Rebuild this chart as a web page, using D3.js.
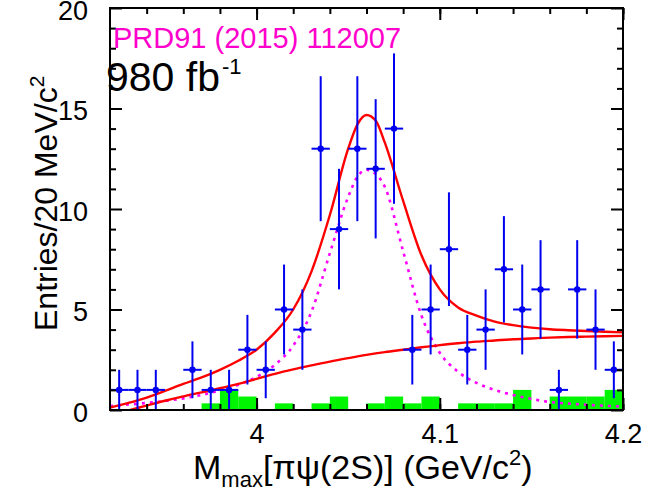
<!DOCTYPE html>
<html>
<head>
<meta charset="utf-8">
<script src="https://cdn.jsdelivr.net/npm/d3@7"></script>
<style>
  html, body { margin: 0; padding: 0; background: #fff; }
  svg { display: block; }
  text { font-family: "Liberation Sans", Arial, Helvetica, sans-serif; }
</style>
</head>
<body>
<svg id="chart" width="646" height="491"></svg>
<script>
// ---------------- data ----------------
const binCenters = [3.925,3.935,3.945,3.955,3.965,3.975,3.985,3.995,4.005,4.015,4.025,4.035,4.045,4.055,
                    4.065,4.075,4.085,4.095,4.105,4.115,4.125,4.135,4.145,4.155,4.165,4.175,4.185,4.195];
const dataCounts = [1,1,1,0,2,1,1,3,2,5,4,13,9,13,12,14,3,5,8,3,4,7,5,6,1,6,4,2];
const sidebandCounts = [0,0,0,0,0,0.33,1.0,0.67,0,0.33,0,0.33,0.67,0,
                        0.33,0.67,0.33,0.67,0,0.33,0.33,0.33,1.0,0,0.67,0.67,0.67,1.0];
const binWidth = 0.01;

// total fit (solid red)
const totalX = [3.92,3.93,3.94,3.95,3.96,3.97,3.98,3.99,4.00,4.01,4.02,4.03,4.04,4.05,4.055,4.06,4.065,4.07,
                4.08,4.09,4.10,4.11,4.12,4.13,4.14,4.15,4.16,4.17,4.18,4.19,4.20];
const totalY = [0.12,0.35,0.62,0.95,1.3,1.62,2.0,2.45,3.0,3.85,5.0,6.9,9.7,13.0,14.2,14.68,14.4,13.3,
                10.4,7.7,6.0,5.1,4.7,4.4,4.22,4.1,4.02,3.97,3.93,3.89,3.86];
// background (solid red, lower)
const bkgX = [3.931,3.935,3.94,3.95,3.96,3.97,3.98,3.99,4.00,4.01,4.02,4.03,4.04,4.05,4.06,4.07,4.08,4.09,
              4.10,4.11,4.12,4.13,4.14,4.15,4.16,4.17,4.18,4.19,4.20];
const bkgY = [0,0.1,0.22,0.46,0.68,0.88,1.08,1.3,1.55,1.8,2.02,2.22,2.41,2.58,2.74,2.88,3.0,3.12,
              3.23,3.32,3.4,3.46,3.52,3.56,3.6,3.63,3.65,3.67,3.69];
// signal (dotted magenta)
const sigX = [3.92,3.93,3.94,3.95,3.96,3.97,3.98,3.99,4.00,4.01,4.02,4.03,4.04,4.05,4.055,4.06,4.065,4.07,
              4.08,4.09,4.10,4.11,4.12,4.13,4.14,4.15,4.16,4.17,4.18,4.19,4.20];
const sigY = [0.2,0.27,0.35,0.45,0.58,0.75,0.98,1.25,1.65,2.25,3.2,4.9,7.8,10.6,11.6,11.95,11.75,11.1,
              7.9,4.7,2.85,1.9,1.35,1.0,0.75,0.55,0.4,0.32,0.26,0.21,0.17];

const xMajorTicks = [4.0, 4.1, 4.2];
const xTickLabels = ["4", "4.1", "4.2"];
const yMajorTicks = [0, 5, 10, 15, 20];
const yTickLabels = ["0", "5", "10", "15", "20"];
const refLabel = "PRD91 (2015) 112007";
const lumiLabel = "980 fb";
const lumiSup = "-1";

// ---------------- layout ----------------
const svg = d3.select("#chart");
const L = 110, R = 623, T = 8, B = 410;
const x = d3.scaleLinear().domain([3.92, 4.2]).range([L, R]);
const y = d3.scaleLinear().domain([0, 20]).range([B, T]);

const plot = svg.append("g");
svg.append("defs").append("clipPath").attr("id","clip")
  .append("rect").attr("x", L).attr("y", T).attr("width", R-L).attr("height", B-T);
const inner = plot.append("g").attr("clip-path","url(#clip)");

// sideband histogram (green)
inner.selectAll("rect.sb").data(binCenters.map((c,i)=>({c, v: sidebandCounts[i]})).filter(d=>d.v>0))
  .enter().append("rect").attr("class","sb")
  .attr("x", d => x(d.c - binWidth/2))
  .attr("width", d => x(d.c + binWidth/2) - x(d.c - binWidth/2))
  .attr("y", d => y(d.v))
  .attr("height", d => y(0) - y(d.v))
  .attr("fill", "#00f500");

// curves
const line = d3.line().x(d=>x(d[0])).y(d=>y(d[1])).curve(d3.curveMonotoneX);
inner.append("path").datum(sigX.map((v,i)=>[v,sigY[i]]))
  .attr("d", line).attr("fill","none").attr("stroke","#ff00ff")
  .attr("stroke-width",2.6).attr("stroke-dasharray","3,5");
inner.append("path").datum(bkgX.map((v,i)=>[v,bkgY[i]]))
  .attr("d", line).attr("fill","none").attr("stroke","#ff0000").attr("stroke-width",2.4);
inner.append("path").datum(totalX.map((v,i)=>[v,totalY[i]]))
  .attr("d", line).attr("fill","none").attr("stroke","#ff0000").attr("stroke-width",2.4);

// data points
const pts = binCenters.map((c,i)=>({c, n: dataCounts[i]}));
const blue = "#0000f0";
const gp = inner.append("g");
gp.selectAll("line.h").data(pts).enter().append("line")
  .attr("x1", d=>x(d.c-binWidth/2)).attr("x2", d=>x(d.c+binWidth/2))
  .attr("y1", d=>y(d.n)).attr("y2", d=>y(d.n))
  .attr("stroke", blue).attr("stroke-width", 2);
gp.selectAll("line.v").data(pts.filter(d=>d.n>0)).enter().append("line")
  .attr("x1", d=>x(d.c)).attr("x2", d=>x(d.c))
  .attr("y1", d=>y(d.n + Math.sqrt(d.n))).attr("y2", d=>y(Math.max(0, d.n - Math.sqrt(d.n))))
  .attr("stroke", blue).attr("stroke-width", 2);
gp.selectAll("circle").data(pts.filter(d=>d.n>0)).enter().append("circle")
  .attr("cx", d=>x(d.c)).attr("cy", d=>y(d.n)).attr("r", 3.2).attr("fill", blue);

// axes
const fnt = "Liberation Sans, Arial, sans-serif";
const xMinor = d3.range(3.94, 4.2, 0.02);
const yMinor = d3.range(1, 20, 1).filter(v => v % 5 !== 0);
function styleAxis(g){ g.select(".domain").remove(); g.selectAll("line").attr("stroke","#000").attr("stroke-width",2); }

// bottom
svg.append("g").attr("transform",`translate(0,${B})`)
  .call(d3.axisBottom(x).tickValues(xMinor).tickSize(-6).tickFormat("")).call(styleAxis);
svg.append("g").attr("transform",`translate(0,${B})`)
  .call(d3.axisBottom(x).tickValues(xMajorTicks).tickSize(-12).tickPadding(12)
        .tickFormat((d,i)=>xTickLabels[i])).call(styleAxis)
  .call(g=>g.selectAll("text").attr("font-size",27).attr("font-family",fnt).attr("fill","#000").attr("dy","0.78em"));
// top
svg.append("g").attr("transform",`translate(0,${T})`)
  .call(d3.axisTop(x).tickValues(xMinor).tickSize(-6).tickFormat("")).call(styleAxis);
svg.append("g").attr("transform",`translate(0,${T})`)
  .call(d3.axisTop(x).tickValues(xMajorTicks).tickSize(-12).tickFormat("")).call(styleAxis);
// left
svg.append("g").attr("transform",`translate(${L},0)`)
  .call(d3.axisLeft(y).tickValues(yMinor).tickSize(-6).tickFormat("")).call(styleAxis);
svg.append("g").attr("transform",`translate(${L},0)`)
  .call(d3.axisLeft(y).tickValues(yMajorTicks).tickSize(-12).tickPadding(22)
        .tickFormat((d,i)=>yTickLabels[i])).call(styleAxis)
  .call(g=>g.selectAll("text").attr("font-size",27).attr("font-family",fnt).attr("fill","#000")
        .attr("dy","0.42em"));
// right
svg.append("g").attr("transform",`translate(${R},0)`)
  .call(d3.axisRight(y).tickValues(yMinor).tickSize(-6).tickFormat("")).call(styleAxis);
svg.append("g").attr("transform",`translate(${R},0)`)
  .call(d3.axisRight(y).tickValues(yMajorTicks).tickSize(-12).tickFormat("")).call(styleAxis);

// frame
svg.append("rect").attr("x",L).attr("y",T).attr("width",R-L).attr("height",B-T)
  .attr("fill","none").attr("stroke","#000").attr("stroke-width",2);

// labels
svg.append("text").attr("x",113).attr("y",48).attr("font-size",29)
  .attr("font-family","DejaVu Sans, sans-serif").attr("fill","#ff00cc").text(refLabel);
const lt = svg.append("text").attr("x",106).attr("y",91).attr("font-size",41).attr("fill","#000");
lt.append("tspan").text(lumiLabel);
lt.append("tspan").attr("dx",2).attr("dy",-17).attr("font-size",22).text(lumiSup);

// x title
const xt = svg.append("text").attr("x",193).attr("y",479).attr("font-size",34).attr("fill","#000");
xt.append("tspan").text("M");
xt.append("tspan").attr("dy",8).attr("font-size",22).text("max");
xt.append("tspan").attr("dy",-8).text("[πψ(2S)] (GeV/c");
xt.append("tspan").attr("dy",-14).attr("font-size",22).text("2");
xt.append("tspan").attr("dy",14).text(")");

// y title
const yt = svg.append("text").attr("transform","translate(57,331) rotate(-90)")
  .attr("font-size",32).attr("fill","#000");
yt.append("tspan").text("Entries/20 MeV/c");
yt.append("tspan").attr("dy",-13).attr("font-size",21).text("2");
</script>
</body>
</html>
